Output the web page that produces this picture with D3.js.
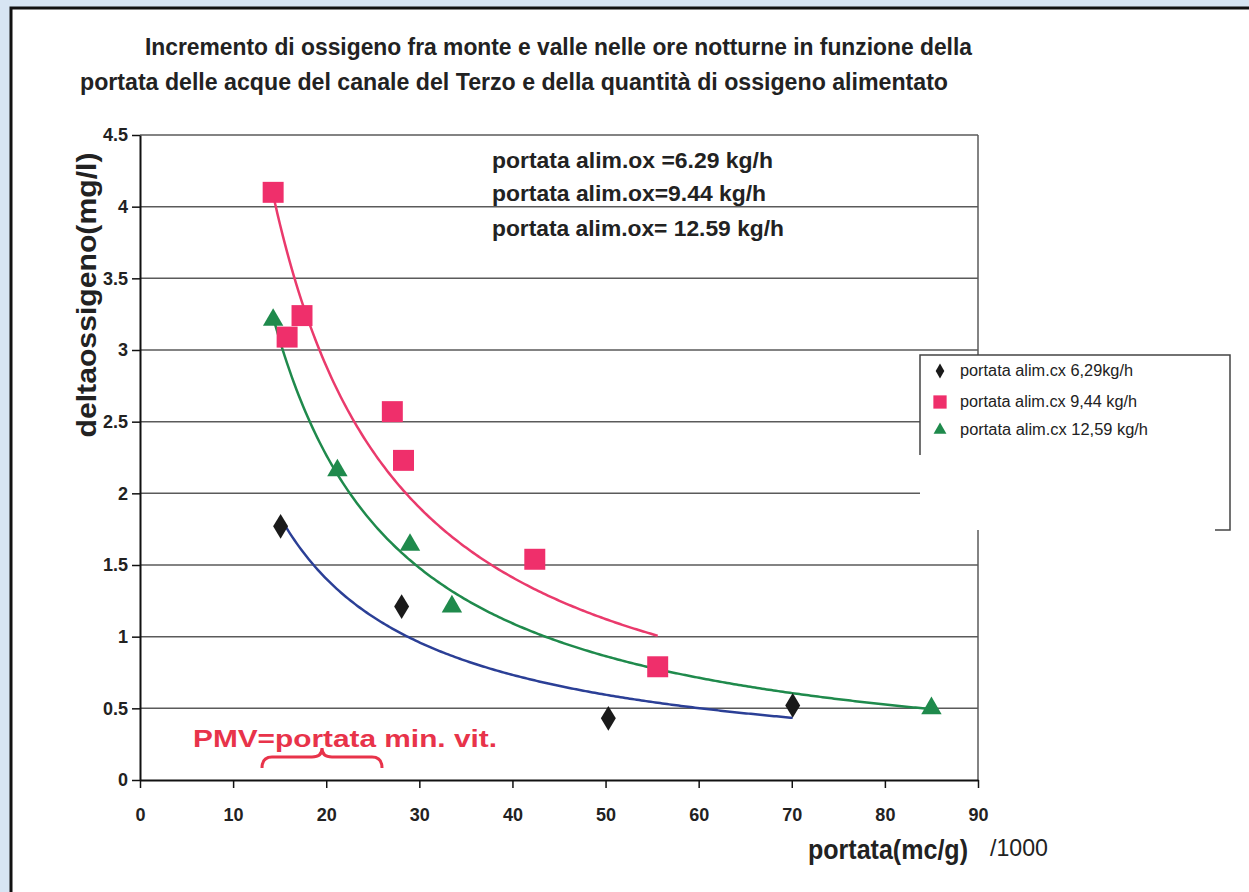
<html>
  <head>
    <script src="https://cdn.jsdelivr.net/npm/d3@7"></script>
    <style>
      * {
        margin: 0;
        padding: 0;
      }
      body {
        background-color: #d7e5f3;
        overflow: hidden;
      }
      svg text {
        font-family: "Liberation Sans", Arial, sans-serif;
      }
    </style>
  </head>
  <body>
    <div id="chart"></div>
    <script>
      // values
      const seriesNames = [
        "portata alim.cx 6,29kg/h",
        "portata alim.cx 9,44 kg/h",
        "portata alim.cx 12,59 kg/h",
      ];
      const x629 = [15.1, 28.1, 50.3, 70.1];
      const y629 = [1.77, 1.21, 0.43, 0.52];
      const x944 = [14.3, 15.8, 17.4, 27.1, 28.3, 42.4, 55.6];
      const y944 = [4.1, 3.09, 3.24, 2.57, 2.23, 1.54, 0.79];
      const x1259 = [14.3, 21.2, 29.0, 33.5, 85.0];
      const y1259 = [3.21, 2.16, 1.64, 1.21, 0.5];
      const xTicks = [0, 10, 20, 30, 40, 50, 60, 70, 80, 90];
      const yTicks = [0, 0.5, 1, 1.5, 2, 2.5, 3, 3.5, 4, 4.5];
      const notes = [
        "portata alim.ox =6.29 kg/h",
        "portata alim.ox=9.44 kg/h",
        "portata alim.ox= 12.59 kg/h",
      ];

      const w = 1249;
      const h = 892;
      const pLeft = 140,
        pRight = 978,
        pTop = 135,
        pBottom = 780;

      const svg = d3
        .select("#chart")
        .append("svg")
        .attr("width", w)
        .attr("height", h);

      // white sheet with black edge
      svg
        .append("rect")
        .attr("x", 11)
        .attr("y", 8)
        .attr("width", 1400)
        .attr("height", 1000)
        .attr("fill", "white")
        .attr("stroke", "#111")
        .attr("stroke-width", 3);

      // title
      svg
        .append("text")
        .attr("x", 145)
        .attr("y", 55)
        .attr("font-size", 23)
        .attr("font-weight", "bold")
        .attr("fill", "#222")
        .attr("textLength", 827)
        .attr("lengthAdjust", "spacingAndGlyphs")
        .text("Incremento di ossigeno fra monte e valle nelle ore notturne in funzione della");
      svg
        .append("text")
        .attr("x", 80)
        .attr("y", 90)
        .attr("font-size", 23)
        .attr("font-weight", "bold")
        .attr("fill", "#222")
        .attr("textLength", 868)
        .attr("lengthAdjust", "spacingAndGlyphs")
        .text("portata  delle acque del canale del Terzo e della quantità di ossigeno alimentato");

      const xScale = d3.scaleLinear().domain([0, 90]).range([pLeft, pRight]);
      const yScale = d3.scaleLinear().domain([0, 4.5]).range([pBottom, pTop]);

      // gridlines
      svg
        .append("g")
        .selectAll("line")
        .data(yTicks.filter((d) => d > 0))
        .enter()
        .append("line")
        .attr("x1", pLeft)
        .attr("x2", pRight)
        .attr("y1", (d) => yScale(d))
        .attr("y2", (d) => yScale(d))
        .attr("stroke", "#5a5a5a")
        .attr("stroke-width", 1.5);

      // right edge of plot
      svg
        .append("line")
        .attr("x1", pRight)
        .attr("x2", pRight)
        .attr("y1", pTop)
        .attr("y2", pBottom)
        .attr("stroke", "#5a5a5a")
        .attr("stroke-width", 1.5);

      const xAxis = d3
        .axisBottom(xScale)
        .tickValues(xTicks)
        .tickSize(8)
        .tickSizeOuter(0)
        .tickPadding(20);
      const yAxis = d3
        .axisLeft(yScale)
        .tickValues(yTicks)
        .tickSize(8)
        .tickSizeOuter(0)
        .tickPadding(4)
        .tickFormat((d) => String(d));

      const gx = svg
        .append("g")
        .attr("transform", "translate(0," + pBottom + ")")
        .call(xAxis);
      const gy = svg
        .append("g")
        .attr("transform", "translate(" + pLeft + ",0)")
        .call(yAxis);

      [gx, gy].forEach((g) => {
        g.select(".domain").attr("stroke", "#111").attr("stroke-width", 2);
        g.selectAll(".tick line").attr("stroke", "#111").attr("stroke-width", 1.5);
        g.selectAll(".tick text")
          .attr("font-family", "'Liberation Sans', Arial, sans-serif")
          .attr("font-size", 18)
          .attr("font-weight", "bold")
          .attr("fill", "#222");
      });

      // axis titles
      svg
        .append("text")
        .attr("transform", "translate(96,295) rotate(-90)")
        .attr("text-anchor", "middle")
        .attr("font-size", 27)
        .attr("font-weight", "bold")
        .attr("fill", "#222")
        .attr("textLength", 285)
        .attr("lengthAdjust", "spacingAndGlyphs")
        .text("deltaossigeno(mg/l)");

      svg
        .append("text")
        .attr("x", 808)
        .attr("y", 859)
        .attr("font-size", 27)
        .attr("font-weight", "bold")
        .attr("fill", "#222")
        .attr("textLength", 160)
        .attr("lengthAdjust", "spacingAndGlyphs")
        .text("portata(mc/g)");
      svg
        .append("text")
        .attr("x", 990)
        .attr("y", 856)
        .attr("font-size", 24)
        .attr("fill", "#222")
        .attr("textLength", 58)
        .attr("lengthAdjust", "spacingAndGlyphs")
        .text("/1000");

      // notes text
      svg
        .append("g")
        .selectAll("text")
        .data(notes)
        .enter()
        .append("text")
        .attr("x", 492)
        .attr("y", (d, i) => [168, 201, 236][i])
        .attr("font-size", 22)
        .attr("font-weight", "bold")
        .attr("fill", "#222")
        .attr("textLength", (d, i) => [281, 274, 292][i])
        .attr("lengthAdjust", "spacingAndGlyphs")
        .text((d) => d);

      // PMV annotation
      svg
        .append("text")
        .attr("x", 193)
        .attr("y", 747)
        .attr("font-size", 24)
        .attr("font-weight", "bold")
        .attr("fill", "#e8334a")
        .attr("textLength", 304)
        .attr("lengthAdjust", "spacingAndGlyphs")
        .text("PMV=portata min. vit.");
      svg
        .append("path")
        .attr(
          "d",
          "M262,768 Q262,757 272,757 L312,757 Q322,757 322,748 Q322,757 332,757 L372,757 Q382,757 382,768"
        )
        .attr("fill", "none")
        .attr("stroke", "#e8334a")
        .attr("stroke-width", 3);

      // power trendline (least squares on logs)
      const powerFit = (xs, ys) => {
        const lx = xs.map(Math.log);
        const ly = ys.map(Math.log);
        const mx = d3.mean(lx);
        const my = d3.mean(ly);
        const b =
          d3.sum(lx, (v, i) => (v - mx) * (ly[i] - my)) /
          d3.sum(lx, (v) => (v - mx) * (v - mx));
        const a = Math.exp(my - b * mx);
        return (x) => a * Math.pow(x, b);
      };

      const series = [
        { xs: x629, ys: y629, color: "#1a1a1a", line: "#2b3f96", shape: d3.symbolDiamond, size: 160 },
        { xs: x944, ys: y944, color: "#ef2f6b", line: "#ea3a6c", shape: d3.symbolSquare, size: 440 },
        { xs: x1259, ys: y1259, color: "#1f8a4c", line: "#1f8a4c", shape: d3.symbolTriangle, size: 180 },
      ];

      const line = d3
        .line()
        .x((d) => xScale(d[0]))
        .y((d) => yScale(d[1]));

      series.forEach((s) => {
        const f = powerFit(s.xs, s.ys);
        const x0 = d3.min(s.xs);
        const x1 = d3.max(s.xs);
        const pts = d3.range(x0, x1, 0.25).concat([x1]).map((x) => [x, f(x)]);
        svg
          .append("path")
          .attr("d", line(pts))
          .attr("fill", "none")
          .attr("stroke", s.line)
          .attr("stroke-width", 2.5);
      });

      series.forEach((s) => {
        svg
          .append("g")
          .selectAll("path")
          .data(s.xs)
          .enter()
          .append("path")
          .attr("d", d3.symbol().type(s.shape).size(s.size))
          .attr(
            "transform",
            (d, i) =>
              "translate(" + xScale(d) + "," + yScale(s.ys[i]) + ")" +
              (s.shape === d3.symbolDiamond ? " scale(1.1,1.05)" : "")
          )
          .attr("fill", s.color);
      });

      // legend
      const lg = svg.append("g");
      lg.append("rect")
        .attr("x", 920)
        .attr("y", 355)
        .attr("width", 310)
        .attr("height", 175)
        .attr("fill", "white");
      lg.append("path")
        .attr("d", "M920,455 L920,355 L1230,355 L1230,530 L1215,530")
        .attr("fill", "none")
        .attr("stroke", "#444")
        .attr("stroke-width", 1.5);

      const legendY = [371, 402, 430];
      const legendW = [173, 177, 188];
      seriesNames.forEach((name, i) => {
        const s = series[i];
        lg.append("path")
          .attr("d", d3.symbol().type(s.shape).size(s.size * 0.4))
          .attr("transform", "translate(940," + legendY[i] + ")")
          .attr("fill", s.color);
        lg.append("text")
          .attr("x", 960)
          .attr("y", legendY[i] + 5)
          .attr("font-size", 16)
          .attr("fill", "#222")
          .attr("textLength", legendW[i])
          .attr("lengthAdjust", "spacingAndGlyphs")
          .text(name);
      });
    </script>
  </body>
</html>
